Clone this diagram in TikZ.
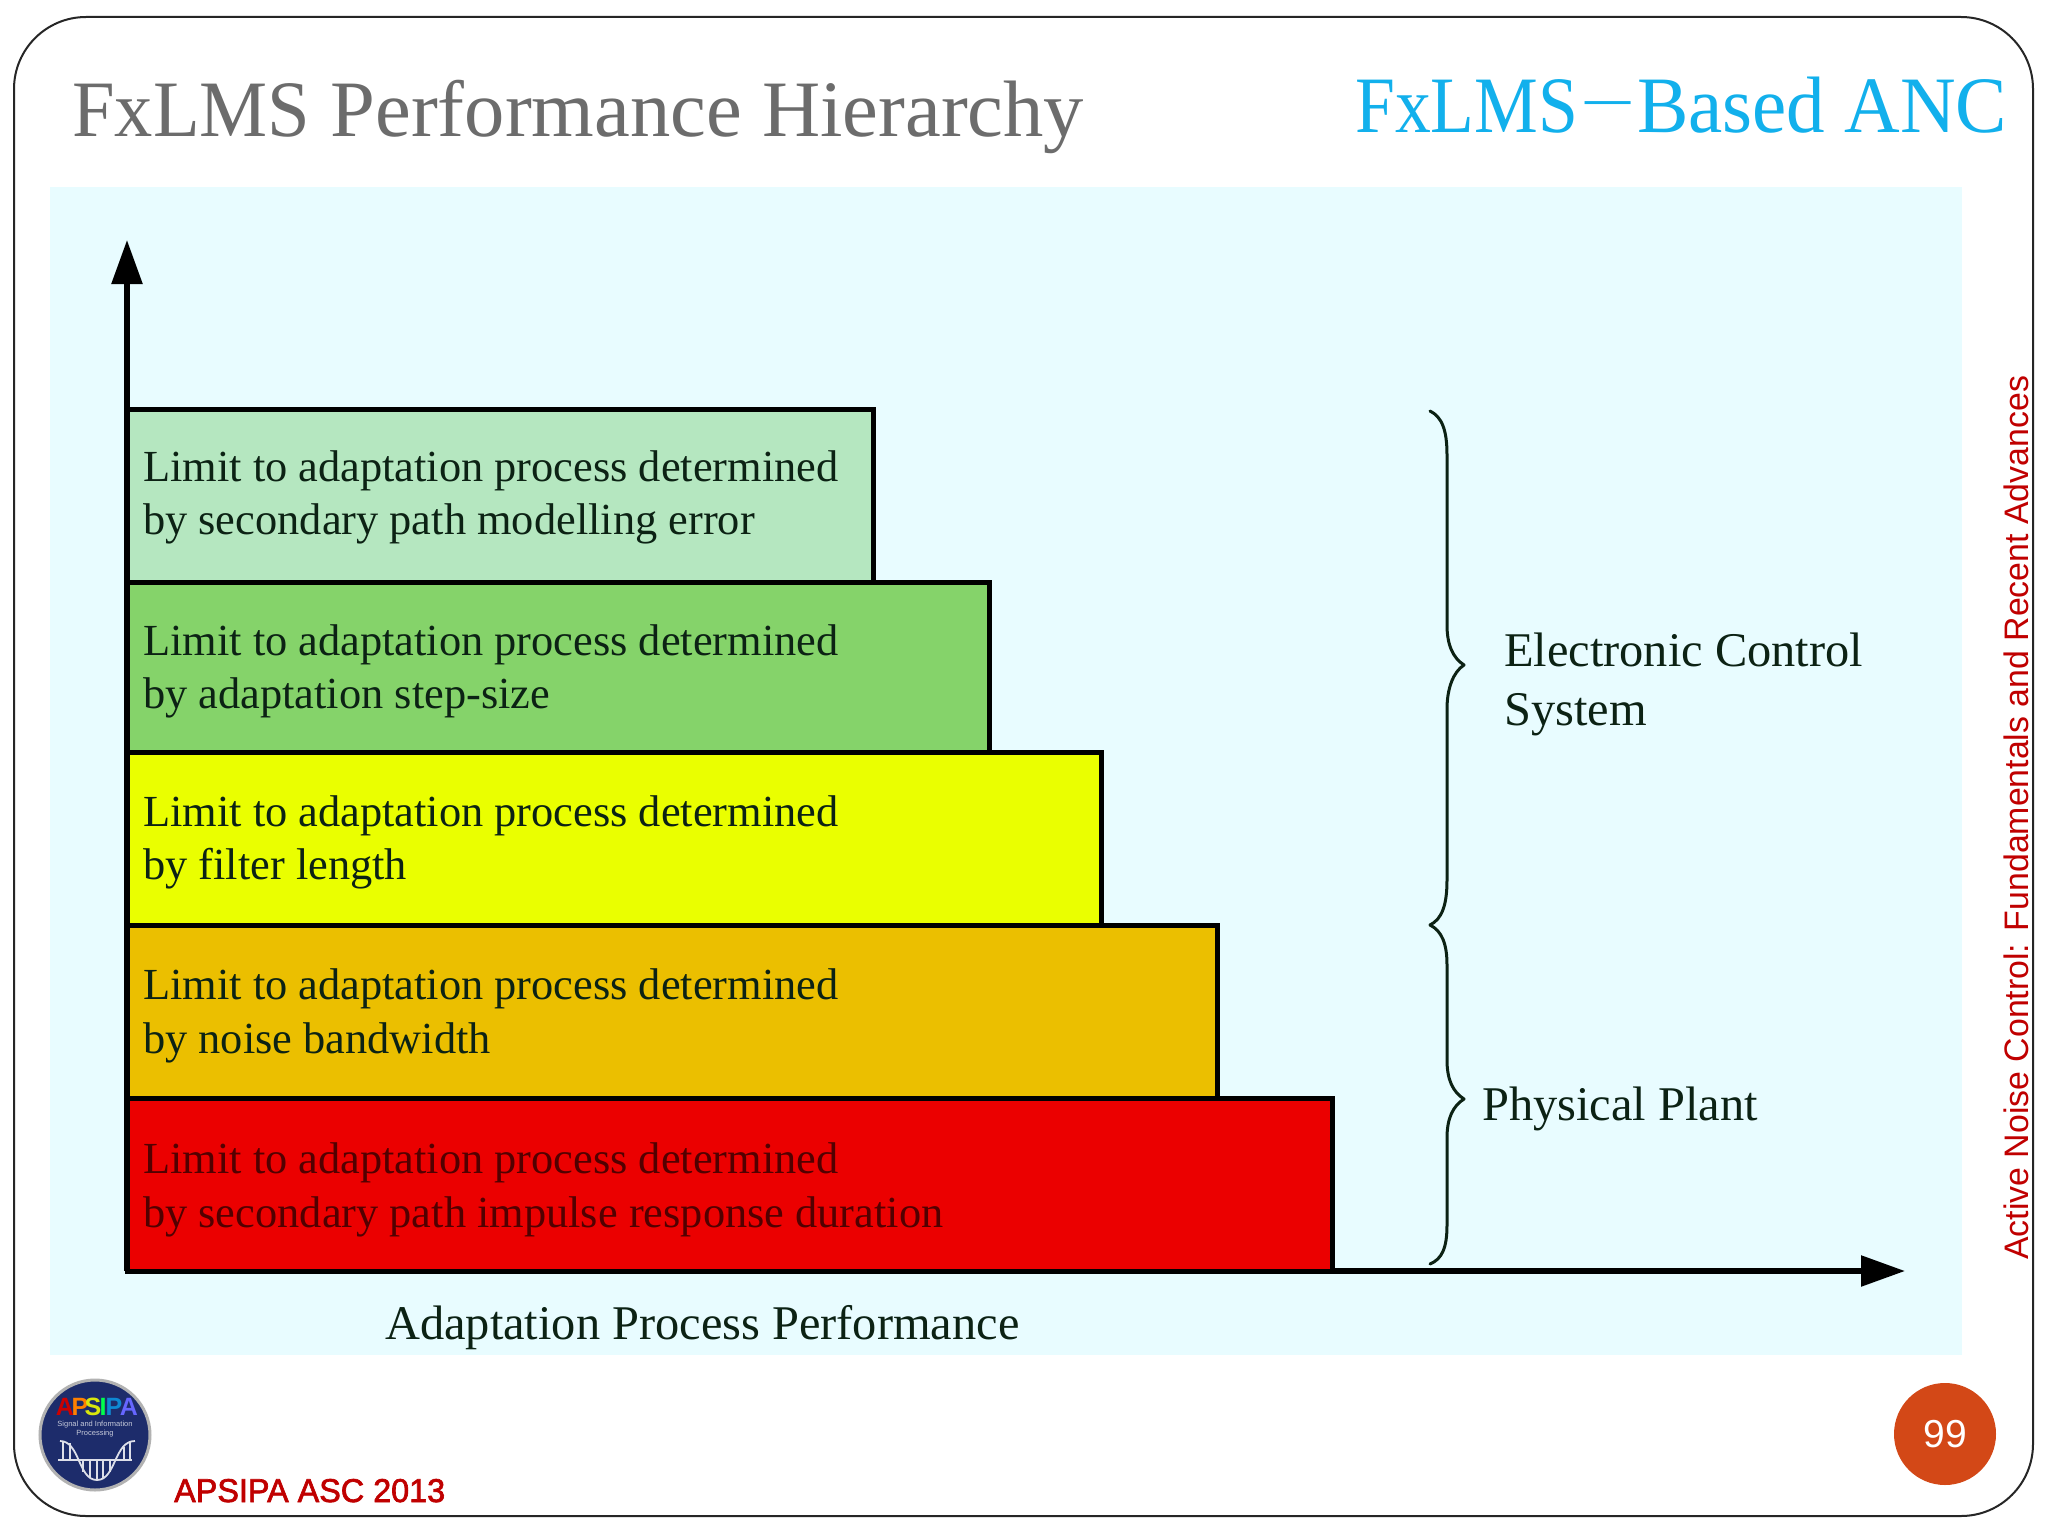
\documentclass[tikz,border=0pt]{standalone}
\usepackage{fontspec}
\setmainfont{Liberation Serif}
\newfontfamily\sansf{Liberation Sans}
\newfontfamily\boldishf[FakeBold=2]{Liberation Sans}
\usetikzlibrary{arrows.meta}
\definecolor{panelc}{HTML}{E8FCFF}
\definecolor{boxa}{HTML}{B5E7C0}
\definecolor{boxb}{HTML}{85D36A}
\definecolor{boxc}{HTML}{EAFF00}
\definecolor{boxd}{HTML}{EBBF00}
\definecolor{boxe}{HTML}{EB0000}
\definecolor{titlec}{HTML}{6C6C6C}
\definecolor{cyanc}{HTML}{12B0EC}
\definecolor{redc}{HTML}{C00000}
\definecolor{orangec}{HTML}{D34817}
\definecolor{navyc}{HTML}{1D2C6B}
\definecolor{inkc}{HTML}{0C2214}
\newcommand{\fs}[1]{\fontsize{#1}{#1}\selectfont}
\tikzset{
  x=1pt,y=-1pt,
  lvl/.style={draw=black,line width=5pt,inner sep=0pt,outer sep=0pt,anchor=north west},
  bodytext/.style={anchor=base west,inner sep=0pt,text=inkc,font=\fs{44.4}},
  labeltext/.style={anchor=base west,inner sep=0pt,text=inkc,font=\fs{48.4}},
  axisline/.style={line width=5.5pt,-{Triangle[length=44pt,width=30pt]}},
  bracec/.style={line width=3pt,draw=inkc,line cap=round,line join=round},
  logoc/.style={anchor=base,inner sep=0pt,font=\sansf\bfseries\fs{25}}
}
\begin{document}
\begin{tikzpicture}
\useasboundingbox (0,0) rectangle (2048,1536);
\fill[white] (0,0) rectangle (2048,1536);
% frame and panel
\draw[line width=2pt,draw=black!85,rounded corners=72pt] (14,17) rectangle (2033,1516);
\fill[panelc] (50,187) rectangle (1962,1355);
% axes
\coordinate (origin) at (127,1271);
\coordinate (ytip) at (127,240);
\coordinate (xtip) at (1905,1271);
\draw[axisline] (origin) -- (ytip);
\draw[axisline] (origin) -- (xtip);
% levels
\node[lvl,fill=boxa,minimum width=746pt,minimum height=173pt] (la) at (127,409) {};
\node[lvl,fill=boxb,minimum width=862pt,minimum height=170pt] (lb) at (127,582) {};
\node[lvl,fill=boxc,minimum width=974pt,minimum height=173pt] (lc) at (127,752) {};
\node[lvl,fill=boxd,minimum width=1090pt,minimum height=173pt] (ld) at (127,925) {};
\node[lvl,fill=boxe,minimum width=1205pt,minimum height=173pt] (le) at (127,1098) {};
% level texts
\node[bodytext] (ta1) at (143,481) {Limit to adaptation process determined};
\node[bodytext] (ta2) at (143,534) {by secondary path modelling error};
\node[bodytext] (tb1) at (143,655) {Limit to adaptation process determined};
\node[bodytext] (tb2) at (143,708) {by adaptation step-size};
\node[bodytext] (tc1) at (143,826) {Limit to adaptation process determined};
\node[bodytext] (tc2) at (143,879) {by filter length};
\node[bodytext] (td1) at (143,999) {Limit to adaptation process determined};
\node[bodytext] (td2) at (143,1053) {by noise bandwidth};
\node[bodytext,text=black!65!boxe] (te1) at (143,1173) {Limit to adaptation process determined};
\node[bodytext,text=black!65!boxe] (te2) at (143,1227) {by secondary path impulse response duration};
% braces
\draw[bracec] (1430,411) .. controls (1442,417) and (1447,430) .. (1447,455)
  -- (1447,625) .. controls (1447,645) and (1453,658) .. (1464,665)
  .. controls (1453,672) and (1447,689) .. (1447,709)
  -- (1447,880) .. controls (1447,905) and (1442,919) .. (1430,925);
\draw[bracec] (1430,925) .. controls (1442,931) and (1447,944) .. (1447,965)
  -- (1447,1060) .. controls (1447,1080) and (1453,1092) .. (1464,1099)
  .. controls (1453,1106) and (1447,1118) .. (1447,1138)
  -- (1447,1225) .. controls (1447,1248) and (1442,1259) .. (1430,1264);
% labels
\node[labeltext] (ec1) at (1504,666) {Electronic Control};
\node[labeltext] (ec2) at (1504,725) {System};
\node[labeltext] (pp) at (1482,1120) {Physical Plant};
\node[labeltext] (xl) at (385,1339) {Adaptation Process Performance};
% titles
\node[anchor=base west,inner sep=0pt,text=titlec,font=\fs{80}] (title) at (72,137)
  {\resizebox{1012pt}{\height}{\scalebox{.95}[1]{FxLMS} Performance Hierarchy}};
\node[anchor=base west,inner sep=0pt,text=cyanc,font=\fs{80}] (sect) at (1355,132)
  {\resizebox{652pt}{\height}{\scalebox{.93}[1]{FxLMS}\raisebox{19pt}{\scalebox{2.3}[.5]{-}}Based ANC}};
% side
\node[rotate=90,anchor=base west,inner sep=0pt,text=redc,font=\sansf\fs{34}] (side) at (2028,1260)
  {\resizebox{884pt}{\height}{Active Noise Control: Fundamentals and Recent Advances}};
% page number
\node[circle,fill=orangec,minimum size=102pt,inner sep=0pt,text=white,font=\sansf\fs{39}] (page) at (1945,1434) {99};
% footer
\node[anchor=base west,inner sep=0pt,text=redc,font=\boldishf\fs{33}] (conf) at (174,1502)
  {\resizebox{271pt}{\height}{APSIPA ASC 2013}};
% logo
\node[circle,fill=navyc,draw=black!30!white,line width=3pt,minimum size=110pt,inner sep=0pt] (logo) at (95,1435) {};
\node[logoc,text=red!80!black] at (65,1415) {A};
\node[logoc,text=orange] at (80,1415) {P};
\node[logoc,text=yellow!85!green] at (93,1415) {S};
\node[logoc,text=green!70!cyan] at (103,1415) {I};
\node[logoc,text=cyan!70!blue] at (114,1415) {P};
\node[logoc,text=blue!60!white] at (129,1415) {A};
\node[anchor=center,inner sep=0pt,text=white!75!navyc,font=\sansf\fs{7.5}] at (95,1425) {Signal and Information};
\node[anchor=center,inner sep=0pt,text=white!75!navyc,font=\sansf\fs{7.5}] at (95,1434) {Processing};
\draw[white!85!navyc,line width=1.8pt] (60,1441) .. controls (80,1441) and (78,1480) .. (97,1480)
  .. controls (116,1480) and (114,1441) .. (135,1441);
\draw[white!85!navyc,line width=1.2pt] (58,1460) -- (132,1460);
\foreach \px/\pa/\pb in {63/1441/1460,70/1443/1460,124/1447/1460,130/1441/1460,83/1460/1472,90/1460/1478,97/1460/1480,103/1460/1478,110/1460/1472}
  \draw[white!85!navyc,line width=1.2pt] (\px,\pa) -- (\px,\pb);
\end{tikzpicture}
\end{document}
